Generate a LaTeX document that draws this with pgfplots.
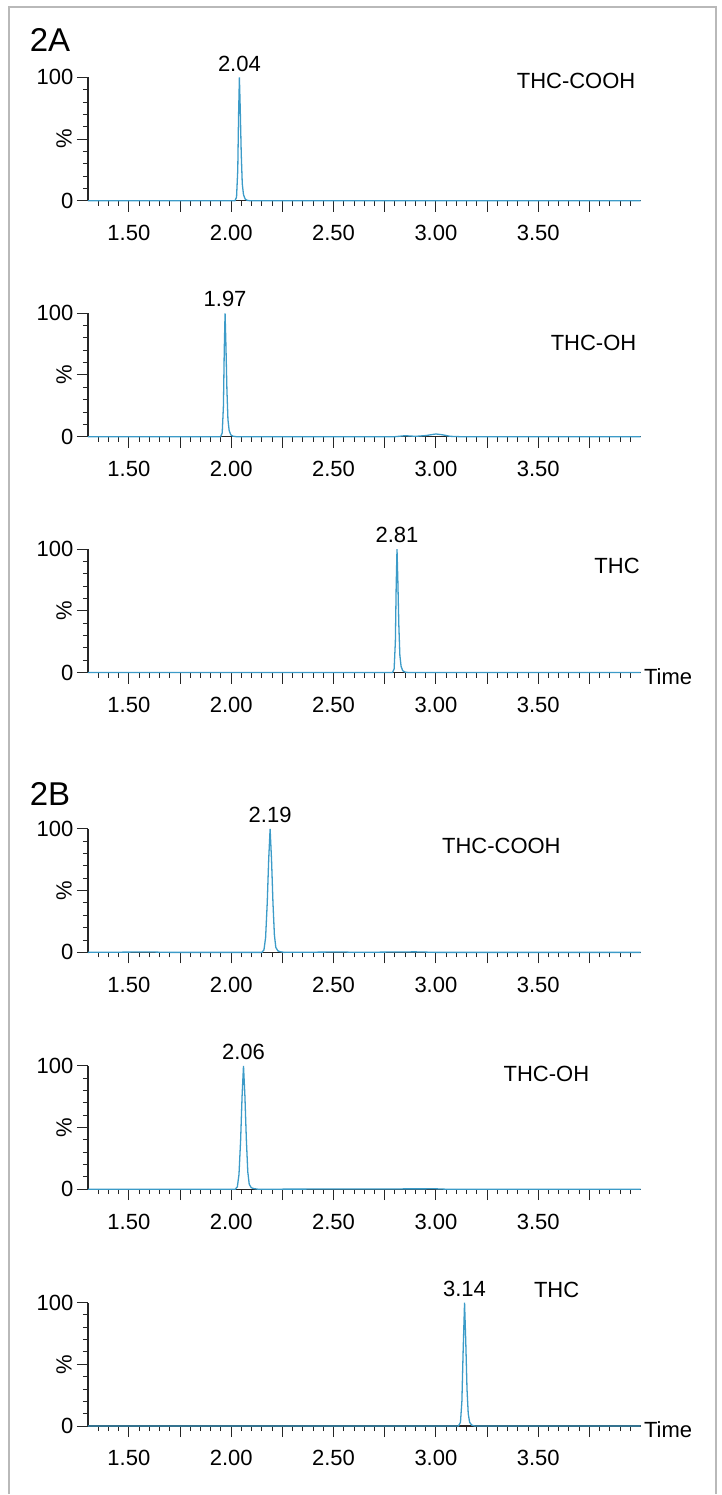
\documentclass[border=0pt]{standalone}
\usepackage{pgfplots}
\pgfplotsset{compat=1.18}
\usepackage{fontspec}
\setmainfont{Liberation Sans}
\definecolor{trace}{RGB}{60,155,200}
\definecolor{framegray}{RGB}{185,185,185}

\newcommand{\lbl}{\fontsize{22}{26}\selectfont}

\pgfplotsset{
  chrom/.style={
    scale only axis, width=553pt, height=123.5pt,
    anchor=south west,
    xmin=1.30, xmax=4.00, ymin=0, ymax=100,
    axis lines*=left,
    axis line style={line width=1.2pt, black!85},
    tick style={line width=1pt, black!85},
    tick align=outside,
    major tick length=11pt, minor tick length=5pt,
    xtick={1.50,1.75,2.00,2.25,2.50,2.75,3.00,3.25,3.50,3.75},
    xticklabels={1.50,,2.00,,2.50,,3.00,,3.50,},
    minor xtick={1.35,1.40,1.45,1.55,1.60,1.65,1.70,1.80,1.85,1.90,1.95,2.05,2.10,2.15,2.20,2.30,2.35,2.40,2.45,2.55,2.60,2.65,2.70,2.80,2.85,2.90,2.95,3.05,3.10,3.15,3.20,3.30,3.35,3.40,3.45,3.55,3.60,3.65,3.70,3.80,3.85,3.90,3.95},
    ytick={0,50,100}, yticklabels={0,,100},
    minor ytick={10,20,30,40,60,70,80,90},
    ylabel={\%},
    every axis y label/.style={at={(axis description cs:0,0.5)}, xshift=-24pt, rotate=90, anchor=center, font=\lbl},
    tick label style={font=\lbl},
    xticklabel style={yshift=-10pt},
    /pgf/number format/assume math mode=true,
    clip=false,
  },
  trc/.style={trace, line width=1.3pt, mark=none},
}

\begin{document}
\begin{tikzpicture}
\path (0pt,0pt) rectangle (722pt,1495pt);
\draw[framegray, line width=2pt] (9pt,0pt) -- (9pt,1488pt) -- (716pt,1488pt) -- (716pt,0pt);
\node[font=\fontsize{33}{38}\selectfont] at (50pt,1455pt) {2A};
\node[font=\fontsize{33}{38}\selectfont] at (50pt,700pt) {2B};

% 2A THC-COOH
\begin{axis}[chrom, at={(88pt,1294pt)}]
\addplot[trc] coordinates {(1.30,0) (2.018,0) (2.026,3) (2.032,25) (2.036,70) (2.040,100) (2.044,75) (2.049,38) (2.054,14) (2.060,5) (2.068,1.5) (2.078,0.4) (2.095,0) (4.00,0)};
\node[font=\lbl, anchor=south, yshift=5pt, inner sep=1pt] at (axis cs:2.04,100) {2.04};
\node[font=\lbl] at (axis cs:3.685,97) {THC-COOH};
\end{axis}

% 2A THC-OH
\begin{axis}[chrom, at={(88pt,1058pt)}]
\addplot[trc] coordinates {(1.30,0) (1.948,0) (1.956,3) (1.962,25) (1.966,70) (1.970,100) (1.974,75) (1.979,38) (1.984,14) (1.990,5) (1.998,1.5) (2.008,0.4) (2.025,0) (2.80,0) (2.85,0.8) (2.90,0.3) (2.95,0.9) (3.00,2.2) (3.03,1.6) (3.07,0.3) (3.12,0) (4.00,0)};
\node[font=\lbl, anchor=south, yshift=5pt, inner sep=1pt] at (axis cs:1.97,100) {1.97};
\node[font=\lbl] at (axis cs:3.77,76) {THC-OH};
\end{axis}

% 2A THC
\begin{axis}[chrom, at={(88pt,822pt)}]
\addplot[trc] coordinates {(1.30,0) (2.788,0) (2.796,3) (2.802,25) (2.806,70) (2.810,100) (2.814,75) (2.819,38) (2.824,14) (2.830,5) (2.838,1.5) (2.848,0.4) (2.865,0) (4.00,0)};
\node[font=\lbl, anchor=south, yshift=5pt, inner sep=1pt] at (axis cs:2.81,100) {2.81};
\node[font=\lbl] at (axis cs:3.885,86) {THC};
\node[font=\lbl, anchor=west, yshift=-4pt] at (axis cs:4.0,0) {Time};
\end{axis}

% 2B THC-COOH
\begin{axis}[chrom, at={(88pt,542pt)}]
\addplot[trc] coordinates {(1.30,0) (1.60,0.3) (1.70,0) (2.150,0) (2.160,2) (2.168,12) (2.176,40) (2.183,75) (2.190,100) (2.197,75) (2.204,40) (2.211,14) (2.218,4) (2.228,1.2) (2.240,0.5) (2.260,0) (2.55,0.3) (2.60,0) (2.90,0.4) (3.00,0) (4.00,0)};
\node[font=\lbl, anchor=south, yshift=5pt, inner sep=1pt] at (axis cs:2.19,100) {2.19};
\node[font=\lbl] at (axis cs:3.32,86) {THC-COOH};
\end{axis}

% 2B THC-OH
\begin{axis}[chrom, at={(88pt,305pt)}]
\addplot[trc] coordinates {(1.30,0) (2.020,0) (2.030,2) (2.038,12) (2.046,40) (2.053,75) (2.060,100) (2.067,75) (2.074,40) (2.081,14) (2.088,4) (2.098,1.2) (2.110,0.5) (2.130,0) (3.00,0.3) (3.05,0) (4.00,0)};
\node[font=\lbl, anchor=south, yshift=5pt, inner sep=1pt] at (axis cs:2.06,100) {2.06};
\node[font=\lbl] at (axis cs:3.54,93) {THC-OH};
\end{axis}

% 2B THC
\begin{axis}[chrom, at={(88pt,68pt)}]
\addplot[trc] coordinates {(1.30,0) (3.110,0) (3.120,3) (3.127,20) (3.133,60) (3.140,100) (3.146,68) (3.152,30) (3.158,10) (3.165,3) (3.175,0.8) (3.190,0) (4.00,0)};
\node[font=\lbl, anchor=south, yshift=5pt, inner sep=1pt] at (axis cs:3.14,100) {3.14};
\node[font=\lbl] at (axis cs:3.59,110) {THC};
\node[font=\lbl, anchor=west, yshift=-4pt] at (axis cs:4.0,0) {Time};
\end{axis}
\end{tikzpicture}
\end{document}
